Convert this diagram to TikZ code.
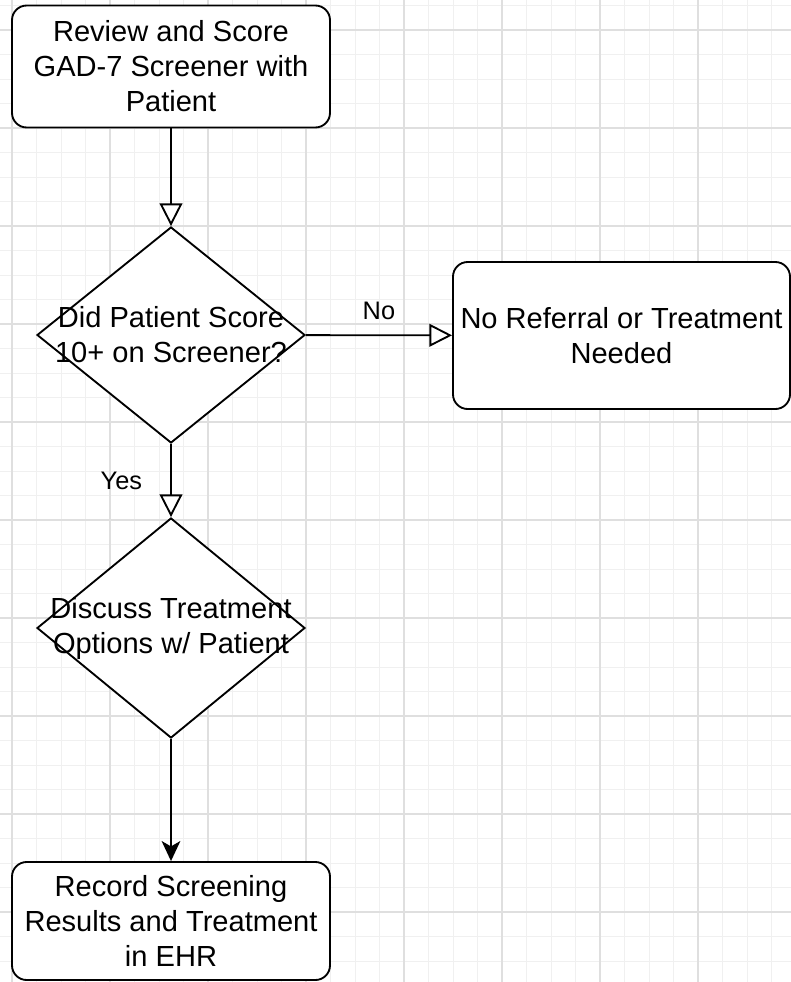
\documentclass[tikz,border=0pt]{standalone}
\usepackage{fontspec}
\setmainfont{Liberation Sans}
\usepackage{xcolor}
\usepackage{tikz}
\usetikzlibrary{shapes.geometric, arrows.meta, positioning, calc}

\tikzset{
    flowtext/.style={font=\fontsize{21.8}{26.25}\selectfont},
    procbox/.style={draw, line width=1.4pt, rounded corners=11pt, fill=white, align=center, inner sep=0pt, flowtext, minimum width=238.5pt},
    decision/.style={draw, diamond, line width=1.4pt, fill=white, inner sep=0pt, minimum width=201pt},
    openarrow/.style={line width=1.4pt, -{Triangle[open, length=17pt, width=17pt]}},
    filledarrow/.style={line width=1.4pt, -{Stealth[length=15pt, width=14pt, inset=4pt]}},
    flowlabel/.style={inner sep=0pt, font=\fontsize{19}{22}\selectfont},
    minorgrid/.style={gray!12, line width=0.75pt},
    majorgrid/.style={gray!25, line width=1pt}
}

\begin{document}
\begin{tikzpicture}[x=0.75pt, y=-0.75pt]
            \useasboundingbox (0,0) rectangle (791,982);

            % background grid
            \foreach \k in {0,...,31} \draw[minorgrid] ({12+24.5*\k},0) -- ({12+24.5*\k},982);
            \foreach \k in {0,...,39} \draw[minorgrid] (0,{5.5+24.5*\k}) -- (791,{5.5+24.5*\k});
            \foreach \k in {0,...,7} \draw[majorgrid] ({12+98*\k},0) -- ({12+98*\k},982);
            \foreach \k in {0,...,9} \draw[majorgrid] (0,{30+98*\k}) -- (791,{30+98*\k});

            \coordinate (C1) at (171,66.5);
            \coordinate (C2) at (171,335);
            \coordinate (C3) at (621.5,335.5);
            \coordinate (C4) at (171,628);
            \coordinate (C5) at (171,921);

            \node[procbox, minimum height=91.5pt] (review) at (C1) {Review and Score\\GAD-7 Screener with\\Patient};
            \node[decision, minimum height=162pt, label={[flowtext, align=center]center:Did Patient Score\\10+ on Screener?}] (score) at (C2) {};
            \node[procbox, minimum width=252.75pt, minimum height=110.25pt] (none) at (C3) {No Referral or Treatment\\Needed};
            \node[decision, minimum height=165pt, label={[flowtext, align=center]center:Discuss Treatment\\Options w/ Patient}] (discuss) at (C4) {};
            \node[procbox, minimum height=88.5pt] (record) at (C5) {Record Screening\\Results and Treatment\\in EHR};

            \draw[openarrow] (review) -- (score);
            \draw[openarrow] (score) -- node[flowlabel, above=11pt] {No} (none);
            \draw[openarrow] (score) -- node[flowlabel, left=21pt] {Yes} (discuss);
            \draw[filledarrow] (discuss) -- (record);
        \end{tikzpicture}
\end{document}
